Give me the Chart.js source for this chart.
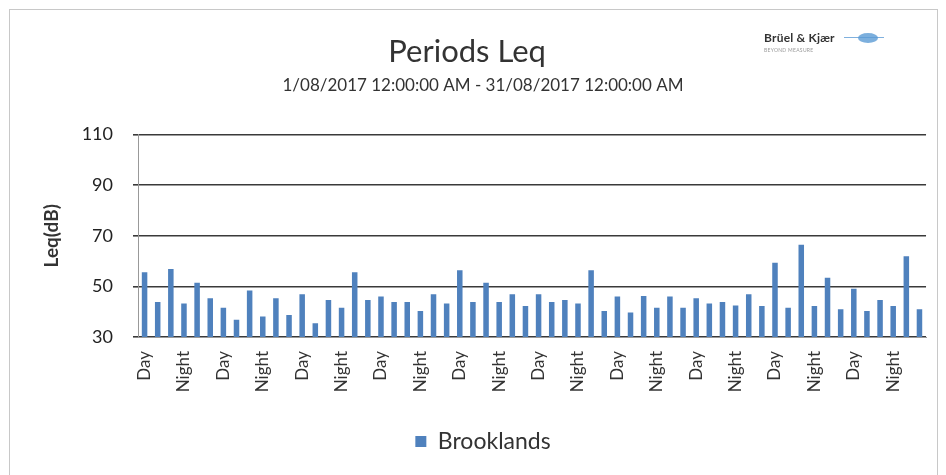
<!DOCTYPE html>
<html>
<head>
<meta charset="utf-8">
<script src="https://cdn.jsdelivr.net/npm/chart.js@4/dist/chart.umd.min.js"></script>
<style>
  body { margin: 0; background: #fff; }
  #wrap { position: relative; width: 946px; height: 475px; }
  #frame { position: absolute; left: 9px; top: 9px; width: 927px; height: 470px; border: 1px solid #c8c8c8; pointer-events: none; }
  #logo { position: absolute; left: 764px; top: 30px; font-family: Lato, sans-serif; }
  #logo .name { font-size: 12px; font-weight: bold; color: #333; letter-spacing: 0.2px; }
  #logo .tag { font-size: 5px; color: #999; margin-top: 2px; letter-spacing: 0.3px; }
  #logo .line { position: absolute; left: 80px; top: 7px; width: 40px; height: 1px; background: #7fb0de; }
  #logo .blob { position: absolute; left: 94px; top: 3px; width: 20px; height: 10px; border-radius: 50%; background: #5b9bd5; opacity: 0.8; }
</style>
</head>
<body>
<div id="wrap">
  <canvas id="myChart" width="946" height="475"></canvas>
  <div id="frame"></div>
  <div id="logo"><div class="name">Brüel &amp; Kjær</div><div class="tag">BEYOND MEASURE</div><div class="line"></div><div class="blob"></div></div>
</div>
<script>
// one Day and one Night period per day, 1/08 - 31/08
var periods = [];
for (var d = 0; d < 30; d++) { periods.push('Day'); periods.push('Night'); }

var leq = [55.6, 43.8, 56.9, 43.2, 51.4, 45.3, 41.6, 36.8, 48.4, 38.1, 45.3, 38.7,
           46.9, 35.4, 44.6, 41.6, 55.6, 44.6, 46.0, 43.8, 43.8, 40.3, 46.9, 43.2,
           56.4, 43.8, 51.4, 43.8, 46.9, 42.3, 46.9, 43.8, 44.6, 43.2, 56.4, 40.3,
           46.0, 39.7, 46.2, 41.6, 46.0, 41.6, 45.3, 43.2, 43.8, 42.5, 46.9, 42.3,
           59.3, 41.6, 66.5, 42.3, 53.4, 41.0, 49.1, 40.3, 44.6, 42.3, 61.9, 41.0];

var yTicks = [30, 50, 70, 90, 110];

var ctx = document.getElementById('myChart').getContext('2d');
var chart = new Chart(ctx, {
  type: 'bar',
  data: {
    labels: periods,
    datasets: [{
      label: 'Brooklands',
      data: leq,
      backgroundColor: '#4f81bd',
      borderWidth: 0,
      barPercentage: 0.42,
      categoryPercentage: 1.0
    }]
  },
  options: {
    responsive: false,
    animation: false,
    layout: { padding: { left: 36, right: 16, top: 0, bottom: 12 } },
    plugins: {
      title: {
        display: true,
        // trailing spaces nudge the centred title a little left, as in the original
        text: 'Periods Leq\u00a0\u00a0\u00a0\u00a0',
        color: '#333',
        font: { family: 'Lato', size: 31, weight: 'normal' },
        padding: { top: 33, bottom: 1 }
      },
      subtitle: {
        display: true,
        text: '1/08/2017 12:00:00 AM - 31/08/2017 12:00:00 AM',
        color: '#333',
        font: { family: 'Lato', size: 17 },
        padding: { top: 4, bottom: 39 }
      },
      legend: {
        position: 'bottom',
        labels: {
          color: '#333',
          font: { family: 'Lato', size: 23 },
          boxWidth: 11, boxHeight: 11, padding: 9
        }
      },
      tooltip: { enabled: false }
    },
    scales: {
      x: {
        afterFit: function (s) { s.height = 84; },
        grid: { display: false },
        border: { color: '#999', width: 1 },
        ticks: {
          autoSkip: false,
          maxRotation: 90, minRotation: 90,
          color: '#333',
          font: { family: 'Lato', size: 17 },
          padding: 6,
          callback: function (v, i) { return i % 3 === 0 ? periods[i] : ''; }
        }
      },
      y: {
        min: 30, max: 110,
        afterFit: function (s) { s.width = 102; },
        afterBuildTicks: function (s) { s.ticks = yTicks.map(function (v) { return { value: v }; }); },
        grid: { color: '#3a3a3a', lineWidth: 1.6, tickLength: 5, drawTicks: true },
        border: { color: '#999', width: 1 },
        ticks: { color: '#222', font: { family: 'Lato', size: 18 }, padding: 20 },
        title: { display: true, text: 'Leq(dB)', color: '#333', font: { family: 'Lato', size: 19, weight: 'bold' }, padding: { bottom: 12 } }
      }
    }
  }
});
</script>
</body>
</html>
